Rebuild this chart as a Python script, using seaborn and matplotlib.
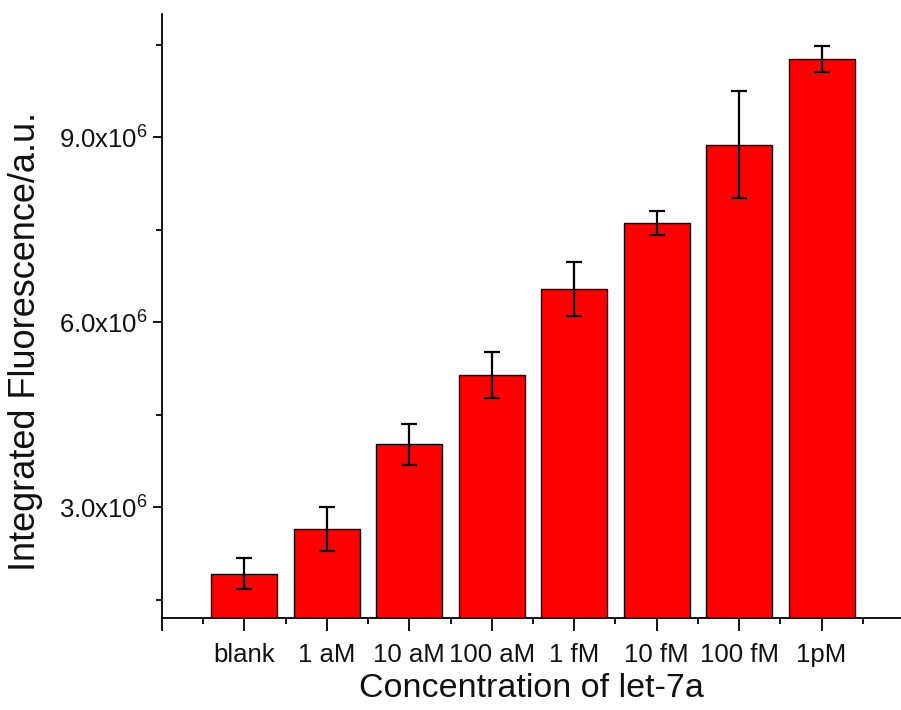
import matplotlib
matplotlib.use("Agg")
import matplotlib.pyplot as plt
import seaborn as sns
import pandas as pd
import numpy as np

categories = ['blank', '1 aM', '10 aM', '100 aM', '1 fM', '10 fM', '100 fM', '1pM']
values = [1.92e6, 2.64e6, 4.02e6, 5.14e6, 6.54e6, 7.61e6, 8.88e6, 10.27e6]
errors = [0.25e6, 0.36e6, 0.33e6, 0.37e6, 0.44e6, 0.20e6, 0.87e6, 0.21e6]
ytick_vals = [3.0e6, 6.0e6, 9.0e6]
ytick_labels = [r'3.0x10$^{6}$', r'6.0x10$^{6}$', r'9.0x10$^{6}$']

sns.set_style("ticks")
plt.rcParams['font.family'] = ['Liberation Sans', 'DejaVu Sans']
plt.rcParams['mathtext.default'] = 'regular'

df = pd.DataFrame({'conc': categories, 'val': values, 'err': errors})

fig = plt.figure(figsize=(9.01, 7.10), dpi=100)
W, H = 901, 710
ax = fig.add_axes([162 / W, 92 / H, 742 / W, 604 / H])

sns.barplot(data=df, x='conc', y='val', order=categories, color='#ff0000',
            saturation=1, edgecolor='black', linewidth=1.0, width=0.8,
            errorbar=None, ax=ax, zorder=2)
ax.errorbar(np.arange(len(categories)), df['val'], yerr=df['err'], fmt='none',
            ecolor='black', elinewidth=1.6, capsize=6, capthick=1.6, zorder=3)

ax.set_xlim(-1, 8)
ax.set_ylim(1.2e6, 11.0e6)

ax.set_xticks(list(range(-1, 9)))
ax.set_xticklabels([''] + categories + [''])
ax.set_xticks(np.arange(-0.5, 8.0, 1.0), minor=True)
ax.set_yticks(ytick_vals)
ax.set_yticklabels(ytick_labels)
ax.set_yticks([1.5e6, 4.5e6, 7.5e6, 10.5e6], minor=True)

for s in ['top', 'right']:
    ax.spines[s].set_visible(False)
for s in ['left', 'bottom']:
    ax.spines[s].set_linewidth(1.3)
    ax.spines[s].set_color('black')

ax.tick_params(axis='both', which='major', direction='out', width=1.3, color='black',
               labelsize=18.5, labelcolor='#111111')
ax.tick_params(axis='x', which='major', length=9, pad=9)
ax.tick_params(axis='y', which='major', length=6.5, pad=4)
ax.tick_params(axis='both', which='minor', direction='out', width=1.3, length=4, color='black')

ax.set_xlabel('Concentration of let-7a', fontsize=24.5, color='#111111')
ax.set_ylabel('Integrated Fluorescence/a.u.', fontsize=26, color='#111111')
ax.yaxis.set_label_coords((43 - 162) / 742, (618 - 341.5) / 604)
ax.xaxis.set_label_coords((531 - 162) / 742, (618 - 697) / 604)
ax.xaxis.label.set_va('baseline')

fig.savefig('out.png', dpi=100)
